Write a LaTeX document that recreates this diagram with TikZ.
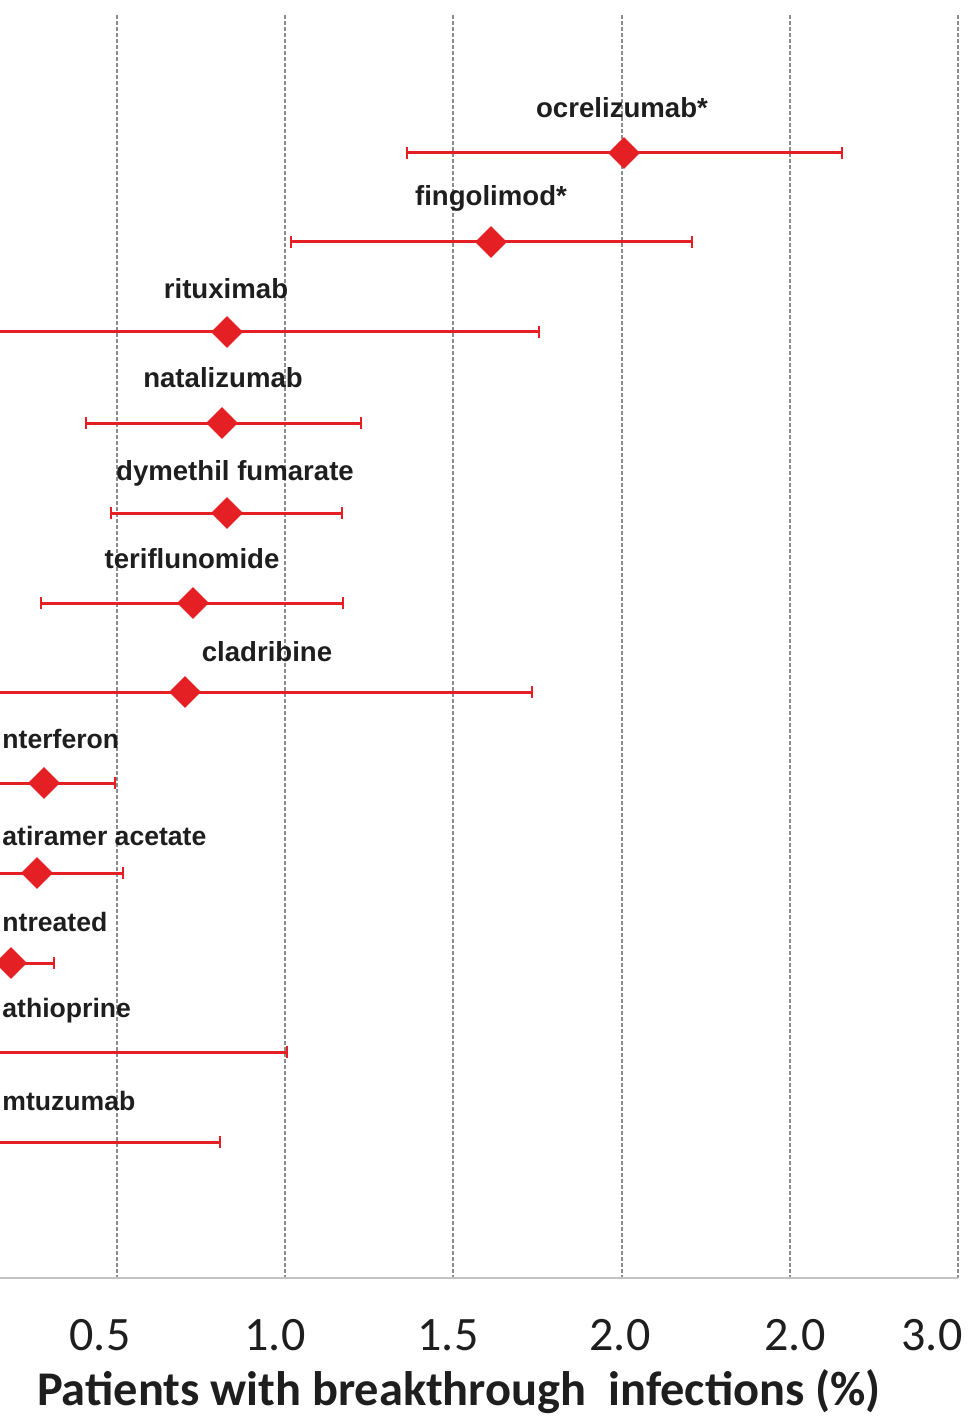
\documentclass[tikz,border=0pt]{standalone}
\usepackage{fontspec}
\setmainfont{Liberation Sans}
\newfontfamily\calfont{Carlito}
\usetikzlibrary{shapes.geometric,arrows.meta}
\definecolor{barred}{RGB}{228,32,36}
\definecolor{gridgrey}{RGB}{140,140,140}
\definecolor{axisgrey}{RGB}{195,195,195}
\definecolor{labelblack}{RGB}{30,30,30}

\begin{document}
\begin{tikzpicture}[x=0.5pt,y=-0.5pt]
        \useasboundingbox (0,0) rectangle (972,1417);
        \clip (0,0) rectangle (972,1417);

        % grid and axis
        \foreach \gx in {117,285,453,622,790,958}
          \draw[gridgrey, line width=0.8pt, dash pattern=on 1.8pt off 1.2pt] (\gx,15) -- (\gx,1278);
        \draw[axisgrey, line width=1.1pt] (0,1278) -- (958,1278);

        \begin{scope}[every node/.style={font=\calfont\fontsize{24}{24}\selectfont, text=labelblack}]
          \node (t1) at (100,1335) {0.5};
          \node (t2) at (275,1335) {1.0};
          \node (t3) at (448,1335) {1.5};
          \node (t4) at (620,1335) {2.0};
          \node (t5) at (795,1335) {2.0};
          \node (t6) at (932,1335) {3.0};
        \end{scope}
        \node[font=\calfont\bfseries\fontsize{24.2}{24.2}\selectfont, text=labelblack] (title) at (459,1392)
          {Patients with breakthrough\ \ infections (\%)};

        % bar ends
        \coordinate (ocrL) at (406,153);  \coordinate (ocrR) at (843,153);
        \coordinate (finL) at (290,242);  \coordinate (finR) at (693,242);
        \coordinate (ritL) at (-20,332);  \coordinate (ritR) at (540,332);
        \coordinate (natL) at (85,423);   \coordinate (natR) at (362,423);
        \coordinate (dymL) at (110,513);  \coordinate (dymR) at (343,513);
        \coordinate (terL) at (40,603);   \coordinate (terR) at (344,603);
        \coordinate (claL) at (-20,692);  \coordinate (claR) at (533,692);
        \coordinate (intL) at (-20,783);  \coordinate (intR) at (116,783);
        \coordinate (glaL) at (-20,873);  \coordinate (glaR) at (124,873);
        \coordinate (untL) at (-20,963);  \coordinate (untR) at (55,963);
        \coordinate (azaL) at (-20,1052); \coordinate (azaR) at (288,1052);
        \coordinate (aleL) at (-20,1142); \coordinate (aleR) at (221,1142);

        \begin{scope}[every edge/.style={draw, barred, line width=1.5pt,
            {Bar[width=6pt,line width=1pt]}-{Bar[width=6pt,line width=1pt]}}]
          \path (ocrL) edge (ocrR);
          \path (finL) edge (finR);
          \path (ritL) edge (ritR);
          \path (natL) edge (natR);
          \path (dymL) edge (dymR);
          \path (terL) edge (terR);
          \path (claL) edge (claR);
          \path (intL) edge (intR);
          \path (glaL) edge (glaR);
          \path (untL) edge (untR);
          \path (azaL) edge (azaR);
          \path (aleL) edge (aleR);
        \end{scope}

        \begin{scope}[every node/.style={diamond, fill=barred, inner sep=0pt,
            minimum width=16pt, minimum height=16pt}]
          \node (ocr) at (624,153) {};
          \node (fin) at (491,242) {};
          \node (rit) at (227,332) {};
          \node (nat) at (222,423) {};
          \node (dym) at (227,513) {};
          \node (ter) at (193,603) {};
          \node (cla) at (185,692) {};
          \node (int) at (44,783)  {};
          \node (gla) at (37,873)  {};
          \node (unt) at (11,963)  {};
        \end{scope}

        \begin{scope}[every node/.style={font=\bfseries\fontsize{13.8}{13.8}\selectfont, text=labelblack, inner sep=0pt}]
          \node (ocrT) at (622,108) {ocrelizumab*};
          \node (finT) at (491,198) {fingolimod*};
          \node (ritT) at (226,289) {rituximab};
          \node (natT) at (223,378) {natalizumab};
          \node (dymT) at (235,473) {dymethil fumarate};
          \node (terT) at (192,559) {teriflunomide};
          \node (claT) at (267,652) {cladribine};
        \end{scope}
        \begin{scope}[every node/.style={font=\bfseries\fontsize{13.3}{13.3}\selectfont, text=labelblack,
            inner sep=0pt, anchor=west}]
          \node (intT) at (2,739)  {nterferon};
          \node (glaT) at (2,836)  {atiramer acetate};
          \node (untT) at (2,922)  {ntreated};
          \node (azaT) at (2,1011) {athioprine};
          \node (aleT) at (2,1101) {mtuzumab};
        \end{scope}

      \end{tikzpicture}
\end{document}
